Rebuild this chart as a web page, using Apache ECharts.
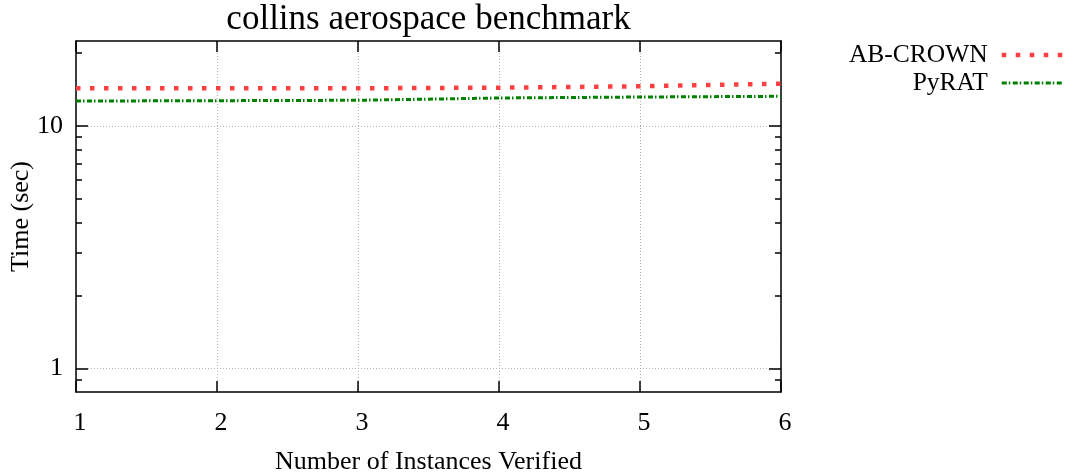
<!DOCTYPE html>
<html>
<head>
<meta charset="utf-8">
<script src="https://cdn.jsdelivr.net/npm/echarts@6/dist/echarts.min.js"></script>
<style>
html,body{margin:0;padding:0;background:#fff;}
#chart{width:1073px;height:472px;}
</style>
</head>
<body>
<div id="chart"></div>
<script>
const instances = [1, 2, 3, 4, 5, 6];
const abCrown = [14.29, 14.29, 14.30, 14.38, 14.57, 14.94];
const pyRat = [12.67, 12.71, 12.76, 13.04, 13.16, 13.25];
const yMajorTicks = [1, 10];
const yMinorTicks = [0.9, 2, 3, 4, 5, 6, 7, 8, 9, 20];
const seriesNames = ['AB-CROWN', 'PyRAT'];

const FONT = 'Liberation Serif';
const pairs = (ys) => instances.map((x, i) => [x, ys[i]]);

const chart = echarts.init(document.getElementById('chart'), null, {renderer: 'canvas'});

const yBase = {
  type: 'log', logBase: 10, min: 0.8, max: 22.4,
  axisLabel: {show: false},
  splitLine: {show: false},
  axisLine: {show: false}
};

chart.setOption({
  animation: false,
  backgroundColor: '#ffffff',
  title: {
    text: 'collins aerospace benchmark',
    left: 428.5, top: 2, padding: 0,
    textAlign: 'center',
    textStyle: {fontFamily: FONT, fontSize: 35, fontWeight: 'normal', color: '#000'}
  },
  legend: {
    orient: 'vertical', right: 7, top: 41, padding: 0,
    align: 'right', itemWidth: 62, itemHeight: 28, itemGap: 0,
    data: seriesNames,
    itemStyle: {opacity: 0},
    lineStyle: {width: 'inherit', type: 'inherit'},
    textStyle: {fontFamily: FONT, fontSize: 25.5, color: '#000', lineHeight: 28, padding: [0, 9, 0, 0]}
  },
  grid: {left: 76, right: 292, top: 41, bottom: 80, containLabel: false, outerBoundsMode: 'none'},
  xAxis: [
    {
      type: 'value', min: 1, max: 6, interval: 1, position: 'bottom',
      name: 'Number of Instances Verified', nameLocation: 'middle', nameGap: 57, nameMoveOverlap: false,
      nameTextStyle: {fontFamily: FONT, fontSize: 26, color: '#000'},
      axisLine: {show: true, lineStyle: {color: '#000', width: 1.5}},
      axisTick: {show: true, inside: true, length: 11, lineStyle: {color: '#000', width: 1.5}},
      axisLabel: {fontFamily: FONT, fontSize: 26, color: '#000', margin: 18, padding: [0, 0, 0, 8]},
      splitLine: {show: true, lineStyle: {color: '#b4b4b4', width: 1, type: [1, 2]}}
    },
    {
      type: 'value', min: 1, max: 6, interval: 1, position: 'top',
      axisLine: {show: true, lineStyle: {color: '#000', width: 1.5}},
      axisTick: {show: true, inside: true, length: 11, lineStyle: {color: '#000', width: 1.5}},
      axisLabel: {show: false},
      splitLine: {show: false}
    }
  ],
  yAxis: [
    Object.assign({}, yBase, {
      position: 'left',
      name: 'Time (sec)', nameLocation: 'middle', nameGap: 42, nameMoveOverlap: false,
      nameTextStyle: {fontFamily: FONT, fontSize: 26, color: '#000'},
      axisLine: {show: true, lineStyle: {color: '#000', width: 1.5}},
      axisTick: {show: true, inside: true, length: 12, customValues: yMajorTicks, lineStyle: {color: '#000', width: 1.5}},
      axisLabel: {show: true, customValues: yMajorTicks, fontFamily: FONT, fontSize: 26, color: '#000', margin: 13},
      splitLine: {show: true, lineStyle: {color: '#b4b4b4', width: 1, type: [1, 2]}}
    }),
    Object.assign({}, yBase, {
      position: 'left',
      axisTick: {show: true, inside: true, length: 6, customValues: yMinorTicks, lineStyle: {color: '#000', width: 1.5}}
    }),
    Object.assign({}, yBase, {
      position: 'right',
      axisLine: {show: true, lineStyle: {color: '#000', width: 1.5}},
      axisTick: {show: true, inside: true, length: 12, customValues: yMajorTicks, lineStyle: {color: '#000', width: 1.5}}
    }),
    Object.assign({}, yBase, {
      position: 'right',
      axisTick: {show: true, inside: true, length: 6, customValues: yMinorTicks, lineStyle: {color: '#000', width: 1.5}}
    })
  ],
  series: [
    {
      name: seriesNames[0], type: 'line', xAxisIndex: 0, yAxisIndex: 0,
      data: pairs(abCrown), symbol: 'none',
      itemStyle: {color: '#ff4040'},
      lineStyle: {color: '#ff4040', width: 4.5, type: [4.5, 9.5], cap: 'butt'}
    },
    {
      name: seriesNames[1], type: 'line', xAxisIndex: 0, yAxisIndex: 0,
      data: pairs(pyRat), symbol: 'none',
      itemStyle: {color: '#008000'},
      lineStyle: {color: '#008000', width: 3, type: [5, 2, 1.5, 2.5], cap: 'butt'}
    }
  ]
});
</script>
</body>
</html>
